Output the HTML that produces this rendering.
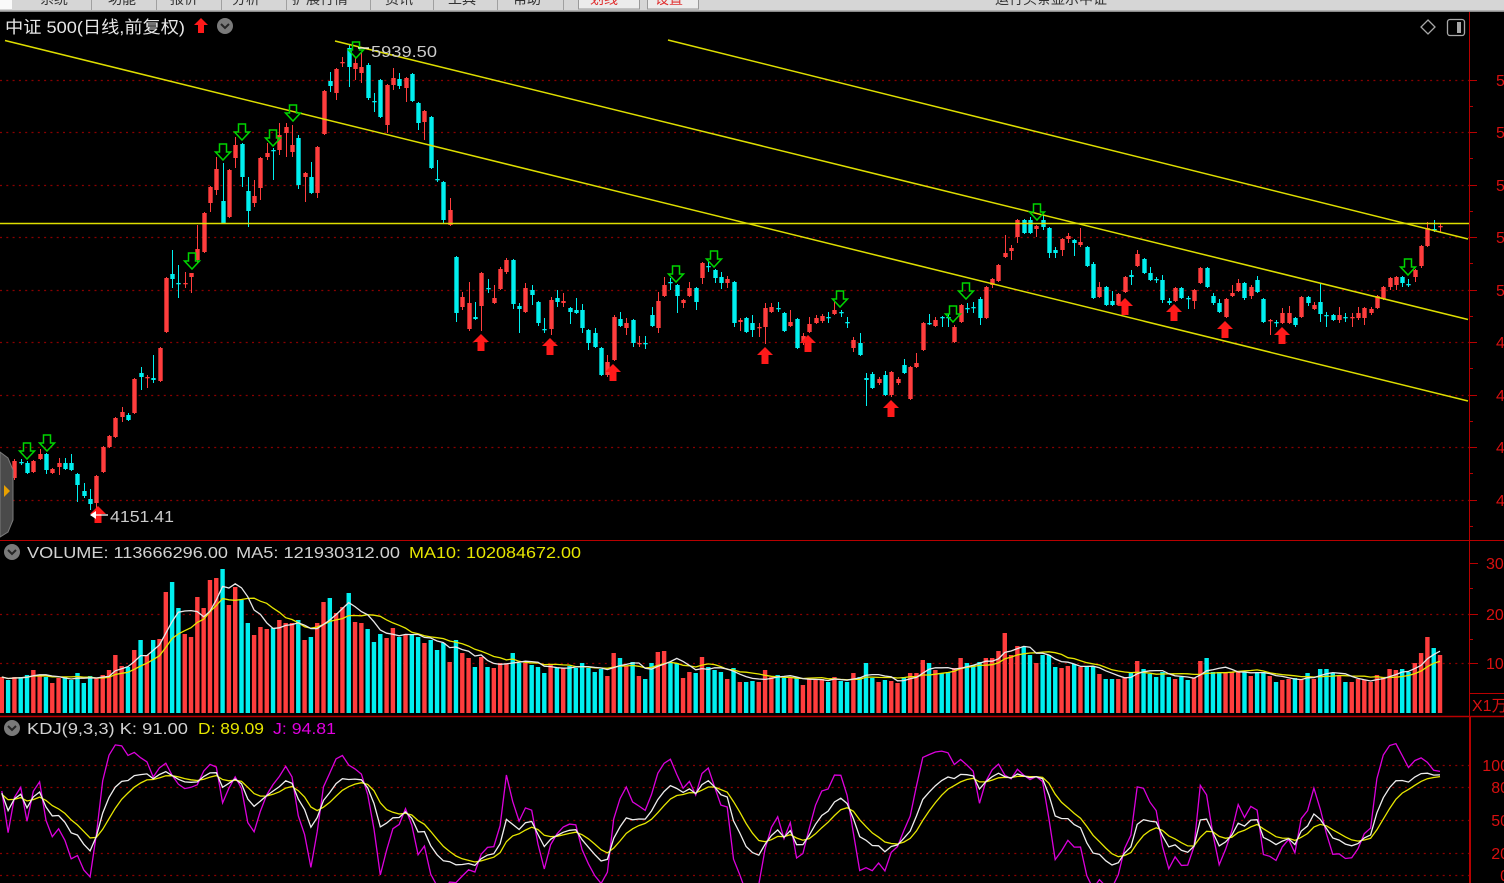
<!DOCTYPE html>
<html><head><meta charset="utf-8">
<style>
html,body{margin:0;padding:0;background:#000;width:1504px;height:883px;overflow:hidden}
svg{display:block}
text{font-family:"Liberation Sans","Noto Sans CJK SC",sans-serif}
</style></head><body>
<svg id="s" width="1504" height="883" viewBox="0 0 1504 883" xmlns="http://www.w3.org/2000/svg">
<defs>
<clipPath id="cm"><rect x="0" y="12" width="1469" height="528"/></clipPath>
<clipPath id="cv"><rect x="0" y="541" width="1469" height="175"/></clipPath>
<clipPath id="ck"><rect x="0" y="717" width="1469" height="166"/></clipPath>
</defs>
<rect width="1504" height="883" fill="#000"/>
<!-- top bar -->
<rect x="0" y="0" width="1504" height="11" fill="#d6d6d6"/>
<rect x="0" y="10.5" width="1504" height="1.5" fill="#8a8a8a"/>
<rect x="0" y="0" width="12" height="9" fill="#fafafa"/>
<g stroke="#a0a0a0" stroke-width="1">
<line x1="91.5" y1="0" x2="91.5" y2="10"/><line x1="156.5" y1="0" x2="156.5" y2="10"/>
<line x1="221.5" y1="0" x2="221.5" y2="10"/><line x1="286.5" y1="0" x2="286.5" y2="10"/>
<line x1="370.5" y1="0" x2="370.5" y2="10"/><line x1="433.5" y1="0" x2="433.5" y2="10"/>
<line x1="497.5" y1="0" x2="497.5" y2="10"/><line x1="563.5" y1="0" x2="563.5" y2="10"/>
</g>
<rect x="578.5" y="-3" width="61" height="12" fill="#ececec" stroke="#999"/>
<rect x="647.5" y="-3" width="51" height="12" fill="#ececec" stroke="#999"/>
<g font-size="14" fill="#333">
<text x="40" y="4">系统</text><text x="108" y="4">功能</text><text x="170" y="4">报价</text>
<text x="232" y="4">分析</text><text x="292" y="4">扩展行情</text><text x="385" y="4">资讯</text>
<text x="448" y="4">工具</text><text x="513" y="4">帮助</text>
<text x="995" y="4">运行头条显示中证</text>
</g>
<g font-size="14" fill="#e03030"><text x="590" y="4">划线</text><text x="655" y="4">设置</text></g>

<!-- axes -->
<line x1="1469.5" y1="12" x2="1469.5" y2="717" stroke="#b80000"/>
<line x1="1470" y1="716" x2="1470" y2="883" stroke="#b80000" stroke-width="2"/>
<line x1="0" y1="540.5" x2="1504" y2="540.5" stroke="#b80000"/>
<line x1="0" y1="716.5" x2="1504" y2="716.5" stroke="#b80000" stroke-width="1.5"/>
<line x1="1469" y1="693.5" x2="1504" y2="693.5" stroke="#b80000"/>
<g id="dyn"></g>

<!-- titles -->
<text x="5" y="33" font-size="17" fill="#e6e6e6" textLength="180" lengthAdjust="spacingAndGlyphs">中证 500(日线,前复权)</text>
<polygon points="201,18 208,25 204,25 204,33 198,33 198,25 194,25" fill="#ff1a1a"/>
<circle cx="225" cy="26" r="8" fill="#7a7a7a"/>
<polyline points="221,24 225,28 229,24" fill="none" stroke="#262626" stroke-width="2"/>
<polygon points="1428,20 1435,27 1428,34 1421,27" fill="none" stroke="#a8a8a8" stroke-width="1.3"/>
<rect x="1447.5" y="19.5" width="17" height="16" rx="2.5" fill="none" stroke="#a8a8a8" stroke-width="1.3"/>
<rect x="1457" y="22" width="4" height="11" fill="#a8a8a8"/>

<text x="371" y="57" font-size="16" fill="#cccccc" textLength="66" lengthAdjust="spacingAndGlyphs">5939.50</text>
<line x1="358" y1="48" x2="369" y2="48" stroke="#ffffff" stroke-width="1.3"/>
<text x="110" y="522" font-size="16" fill="#cccccc" textLength="64" lengthAdjust="spacingAndGlyphs">4151.41</text>
<line x1="91" y1="515" x2="108" y2="515" stroke="#ffffff" stroke-width="1.3"/>
<polygon points="90,515 96,511 96,519" fill="#ffffff"/>

<!-- left tab -->
<polygon points="0,452 8,458 13,470 13,520 8,532 0,537" fill="#4a4a4a" stroke="#7a7a7a"/>
<polygon points="4,485 10,491 4,497" fill="#e8a000"/>

<!-- volume header -->
<circle cx="12" cy="552" r="8" fill="#7a7a7a"/>
<polyline points="8,550 12,554 16,550" fill="none" stroke="#262626" stroke-width="2"/>
<text x="27" y="558" font-size="16" fill="#d2d2d2" textLength="201" lengthAdjust="spacingAndGlyphs">VOLUME: 113666296.00</text>
<text x="236" y="558" font-size="16" fill="#d2d2d2" textLength="164" lengthAdjust="spacingAndGlyphs">MA5: 121930312.00</text>
<text x="409" y="558" font-size="16" fill="#e6e600" textLength="172" lengthAdjust="spacingAndGlyphs">MA10: 102084672.00</text>

<!-- kdj header -->
<circle cx="12" cy="728" r="8" fill="#7a7a7a"/>
<polyline points="8,726 12,730 16,726" fill="none" stroke="#262626" stroke-width="2"/>
<text x="27" y="734" font-size="16" fill="#d2d2d2" textLength="161" lengthAdjust="spacingAndGlyphs">KDJ(9,3,3) K: 91.00</text>
<text x="198" y="734" font-size="16" fill="#e6e600" textLength="66" lengthAdjust="spacingAndGlyphs">D: 89.09</text>
<text x="273" y="734" font-size="16" fill="#e000e0" textLength="63" lengthAdjust="spacingAndGlyphs">J: 94.81</text>

<!-- right labels -->
<g font-size="16" fill="#d81010">
<text x="1496" y="86">5800</text><text x="1496" y="138">5600</text><text x="1496" y="191">5400</text>
<text x="1496" y="243">5200</text><text x="1496" y="296">5000</text><text x="1496" y="348">4800</text>
<text x="1496" y="401">4600</text><text x="1496" y="453">4400</text><text x="1496" y="506">4200</text>
<text x="1486" y="569">3000</text><text x="1486" y="620">2000</text><text x="1486" y="669">1000</text>
<text x="1472" y="711">X1万</text>
<text x="1509" y="771" text-anchor="end">100</text><text x="1509" y="793" text-anchor="end">80</text>
<text x="1509" y="826" text-anchor="end">50</text><text x="1509" y="859" text-anchor="end">20</text>
<text x="1509" y="881" text-anchor="end">0</text>
</g>
</svg>
<script>
var C=[[1,470,478,466,481],[0,470,477,468,479],[1,461,478,459,480],[0,462,463,459,465],[0,463,473,461,474],[1,461,472,460,473],[1,454,459,449,460],[0,454,470,453,474],[1,469,473,468,474],[1,463,467,458,475],
[0,463,469,458,470],[0,463,470,454,471],[0,474,485,473,502],[0,491,496,483,498],[0,499,504,489,510],[1,476,503,475,513],[1,447,472,446,473],[1,436,447,435,448],[1,418,437,417,438],[1,412,417,407,422],
[0,415,420,413,421],[1,379,413,378,414],[0,373,377,367,390],[1,377,378,375,388],[0,378,380,355,383],[1,348,381,347,382],[1,278,332,277,333],[0,274,279,250,288],[0,283,284,265,298],[1,283,284,272,288],
[1,273,277,273,293],[1,249,260,225,263],[1,213,252,212,253],[1,187,203,186,212],[1,169,190,157,195],[0,201,223,163,223],[1,170,217,169,218],[1,145,158,137,168],[0,144,177,143,187],[0,191,211,177,227],
[1,196,203,180,207],[1,158,188,157,200],[1,153,157,143,160],[0,150,151,148,180],[1,135,150,123,155],[1,127,133,123,157],[1,145,152,125,157],[0,138,185,135,189],[1,173,177,172,202],[0,177,193,162,194],
[1,147,193,146,198],[1,91,134,90,135],[0,81,86,72,92],[1,69,93,68,100],[1,62,63,57,67],[0,48,67,44,87],[1,63,69,58,80],[1,67,73,52,83],[0,65,98,63,100],[0,101,102,93,112],
[0,80,117,79,118],[1,85,125,84,133],[1,78,85,68,90],[0,79,86,73,89],[1,78,88,77,102],[0,74,101,73,102],[0,103,123,102,130],[1,111,122,110,140],[0,117,168,116,169],[0,179,180,160,182],
[0,182,220,181,223],[1,210,225,198,226],[0,257,313,256,322],[1,297,307,292,310],[1,303,329,282,331],[0,317,319,302,320],[1,273,306,272,331],[0,288,289,279,293],[1,298,303,285,304],[1,269,289,267,290],
[1,260,272,258,274],[0,260,304,259,309],[0,306,309,303,333],[1,288,312,283,313],[0,290,295,285,305],[0,302,323,301,326],[0,329,330,318,333],[1,300,329,297,335],[0,298,302,290,307],[1,301,303,293,307],
[0,308,312,307,324],[0,310,313,298,314],[0,310,328,304,333],[0,330,343,329,350],[0,333,347,328,348],[0,348,375,347,376],[1,362,375,355,377],[1,317,360,315,361],[0,319,326,312,327],[1,323,328,318,335],
[0,320,343,319,347],[1,343,344,336,347],[0,343,344,336,349],[0,315,326,307,327],[1,301,328,292,333],[1,285,296,277,297],[0,282,283,278,290],[0,285,296,284,313],[1,300,303,299,308],[1,288,296,282,297],
[0,288,302,287,310],[1,263,278,262,284],[0,266,267,262,272],[0,270,278,269,283],[0,277,283,272,289],[1,279,283,276,288],[0,282,323,281,327],[1,320,322,318,331],[0,318,332,317,333],[0,323,330,315,337],
[1,327,328,323,337],[1,308,327,303,344],[1,307,312,303,313],[0,308,309,302,312],[0,313,331,312,332],[1,322,326,310,327],[0,319,348,318,349],[1,336,343,333,345],[1,324,332,317,333],[1,318,323,315,324],
[1,316,321,314,323],[0,317,318,312,323],[1,310,314,302,315],[0,312,313,310,317],[0,322,323,317,328],[1,340,348,337,352],[0,343,355,333,356],[0,378,380,373,406],[0,374,388,372,389],[1,379,383,377,385],
[0,375,395,371,396],[1,372,395,371,397],[1,379,383,377,385],[0,365,373,359,374],[1,367,399,366,400],[1,363,367,353,368],[1,323,350,322,351],[0,323,324,314,325],[1,320,326,317,327],[0,317,318,316,327],
[0,317,318,314,327],[1,327,342,325,343],[1,305,322,304,323],[0,308,309,303,313],[0,307,308,302,313],[0,299,318,297,325],[1,287,318,286,319],[1,279,285,278,288],[1,265,281,264,282],[1,253,257,235,258],
[1,248,251,245,260],[1,220,237,219,243],[0,220,233,219,234],[0,220,233,217,234],[1,226,229,225,237],[0,220,227,215,230],[0,228,253,227,258],[0,250,253,247,258],[1,239,250,238,256],[1,236,239,233,243],
[0,240,243,239,256],[1,242,245,228,247],[0,247,266,246,267],[0,264,298,262,299],[1,287,297,282,298],[0,287,305,286,306],[0,301,305,291,306],[1,294,305,293,306],[1,277,292,276,293],[0,275,277,270,285],
[1,254,266,250,267],[0,259,273,258,274],[0,273,280,267,281],[0,279,280,277,283],[0,280,300,275,303],[0,301,303,298,305],[1,288,301,287,302],[0,288,298,287,299],[0,298,299,296,309],[1,290,301,289,309],
[1,268,283,267,284],[0,268,287,267,288],[0,296,303,293,305],[0,303,312,299,313],[1,299,317,298,318],[1,293,296,285,297],[1,283,291,279,292],[0,283,298,282,300],[1,287,296,285,299],[0,280,292,276,293],
[0,299,322,298,323],[1,320,321,319,335],[0,322,323,320,327],[1,313,323,308,324],[1,313,323,306,324],[0,318,325,317,327],[1,297,317,296,318],[0,297,303,296,306],[1,305,309,302,310],[0,302,314,284,322],
[0,315,316,312,327],[0,315,320,314,321],[1,315,320,307,323],[0,317,318,313,322],[1,317,318,313,327],[1,313,318,307,320],[1,308,318,307,325],[1,309,313,307,315],[1,296,308,295,309],[1,287,299,286,300],
[1,278,287,277,290],[1,277,285,276,290],[0,277,283,276,287],[0,284,285,279,287],[1,270,277,269,282],[1,246,266,245,268],[1,228,246,222,247],[0,229,230,220,232],[1,226,227,223,232]];
var V=[677,680,677,677,675,670,675,677,683,678,677,680,673,683,676,678,675,670,655,666,
667,650,640,655,640,639,592,582,608,634,637,597,608,580,578,569,605,587,600,623,
635,627,629,628,620,623,623,620,640,637,623,602,598,613,607,593,622,623,629,642,
634,638,628,637,635,635,637,643,640,650,643,662,640,653,658,667,657,667,668,663,
664,653,663,663,665,667,673,665,668,668,666,668,663,
668,672,669,676,653,658,666,662,676,679,663,652,651,663,663,678,672,673,657,667,
670,672,679,668,682,682,681,682,670,677,675,678,678,677,685,678,679,679,682,677,
681,682,673,677,663,678,682,680,681,683,677,673,673,660,663,670,673,672,668,658,
663,665,662,658,658,651,633,655,646,647,655,
663,655,655,667,668,666,664,667,667,667,674,679,679,679,678,672,661,669,674,677,
672,677,679,677,680,678,661,658,672,672,673,672,671,672,676,672,672,676,682,680,
679,678,679,673,679,669,669,673,676,682,682,679,680,682,675,677,669,670,669,672,
663,653,637,648,655];
var N=C.length, RED="#ff3d3d", CY="#00f0f0";
function X(i){return 1.8+6.308*i;}
var h='';
// grids
[80,132,185,237,290,342,395,447,500].forEach(function(y){h+='<line x1="0" y1="'+(y+0.5)+'" x2="1469" y2="'+(y+0.5)+'" stroke="#8a0000" stroke-width="1.2" stroke-dasharray="2 4.3"/>';
 h+='<line x1="1469" y1="'+(y+0.5)+'" x2="1477" y2="'+(y+0.5)+'" stroke="#b80000"/>';
 h+='<line x1="1469" y1="'+(y+26.5)+'" x2="1473" y2="'+(y+26.5)+'" stroke="#b80000"/>';});
[614,663].forEach(function(y){h+='<line x1="0" y1="'+(y+0.5)+'" x2="1469" y2="'+(y+0.5)+'" stroke="#8a0000" stroke-width="1.2" stroke-dasharray="2 4.3"/>';});
[563,614,663].forEach(function(y){h+='<line x1="1469" y1="'+(y+0.5)+'" x2="1478" y2="'+(y+0.5)+'" stroke="#b80000"/>';});
[588,639].forEach(function(y){h+='<line x1="1469" y1="'+(y+0.5)+'" x2="1473" y2="'+(y+0.5)+'" stroke="#b80000"/>';});
[765,787,820,853,875].forEach(function(y){h+='<line x1="0" y1="'+(y+0.5)+'" x2="1469" y2="'+(y+0.5)+'" stroke="#8a0000" stroke-width="1.2" stroke-dasharray="2 4.3"/>';});
// candles
h+='<g clip-path="url(#cm)">';
for(var i=0;i<N;i++){var c=C[i],col=c[0]?RED:CY,xr=Math.round(X(i))+0.5;
 h+='<line x1="'+xr+'" y1="'+c[3]+'" x2="'+xr+'" y2="'+c[4]+'" stroke="'+col+'"/>';
 h+='<rect x="'+(xr-2.2)+'" y="'+c[1]+'" width="4.4" height="'+Math.max(1.3,c[2]-c[1])+'" fill="'+col+'"/>';}
// trend lines
h+='<g stroke="#dede00" stroke-width="1.5" fill="none">';
h+='<line x1="0" y1="223.5" x2="1469" y2="223.5"/>';
h+='<line x1="5" y1="40.5" x2="1468" y2="401"/>';
h+='<line x1="335" y1="41" x2="1468" y2="319.5"/>';
h+='<line x1="668" y1="40" x2="1468" y2="239"/>';
h+='</g>';
// arrows
var G=[[27,443],[47,435],[192,253],[223,144],[242,124],[273,130],[293,105],[356,42],[676,266],[714,251],[840,291],[953,306],[966,283],[1037,204],[1408,259]];
G.forEach(function(a){var x=a[0],y=a[1];h+='<polygon points="'+(x-3.5)+','+y+' '+(x+3.5)+','+y+' '+(x+3.5)+','+(y+8)+' '+(x+7.5)+','+(y+8)+' '+x+','+(y+16)+' '+(x-7.5)+','+(y+8)+' '+(x-3.5)+','+(y+8)+'" fill="none" stroke="#00d400" stroke-width="1.5"/>';});
var R=[[98,506],[481,334],[550,338],[613,364],[765,347],[808,335],[891,400],[1125,298],[1174,304],[1225,321],[1282,327]];
R.forEach(function(a){var x=a[0],y=a[1];h+='<polygon points="'+x+','+y+' '+(x+8)+','+(y+8)+' '+(x+3.5)+','+(y+8)+' '+(x+3.5)+','+(y+17)+' '+(x-3.5)+','+(y+17)+' '+(x-3.5)+','+(y+8)+' '+(x-8)+','+(y+8)+'" fill="#ff1a1a"/>';});
h+='</g>';
// volume
h+='<g clip-path="url(#cv)">';
for(var i=0;i<N;i++){var col=C[i][0]?RED:CY,x=X(i);
 h+='<rect x="'+(x-2.2).toFixed(2)+'" y="'+V[i]+'" width="4.4" height="'+(713-V[i])+'" fill="'+col+'"/>';}
function ma(n){var p=[];for(var i=0;i<N;i++){var s=0,k=0;for(var j=Math.max(0,i-n+1);j<=i;j++){s+=713-V[j];k++;}p.push(X(i).toFixed(1)+','+(713-s/k).toFixed(1));}return p.join(' ');}
h+='<polyline points="'+ma(10)+'" fill="none" stroke="#e6e600" stroke-width="1.3"/>';
h+='<polyline points="'+ma(5)+'" fill="none" stroke="#e8e8e8" stroke-width="1.3"/>';
h+='</g>';
// KDJ
var K=75,D=73,pk=[],pd=[],pj=[];
for(var i=0;i<N;i++){var lo=-1e9,hi=1e9;for(var j=Math.max(0,i-8);j<=i;j++){if(C[j][4]>lo)lo=C[j][4];if(C[j][3]<hi)hi=C[j][3];}
 var cl=C[i][0]?C[i][1]:C[i][2];var rsv=(lo==hi)?50:(lo-cl)/(lo-hi)*100;
 K=2/3*K+rsv/3;D=2/3*D+K/3;var J=3*K-2*D;var x=X(i).toFixed(1);
 pk.push(x+','+(875-K*1.1).toFixed(1));pd.push(x+','+(875-D*1.1).toFixed(1));pj.push(x+','+(875-J*1.1).toFixed(1));}
h+='<g clip-path="url(#ck)" fill="none" stroke-width="1.3">';
h+='<polyline points="'+pj.join(' ')+'" stroke="#dc00dc"/>';
h+='<polyline points="'+pd.join(' ')+'" stroke="#e6e600"/>';
h+='<polyline points="'+pk.join(' ')+'" stroke="#eeeeee"/>';
h+='</g>';
document.getElementById('dyn').innerHTML=h;
</script>
</body></html>
